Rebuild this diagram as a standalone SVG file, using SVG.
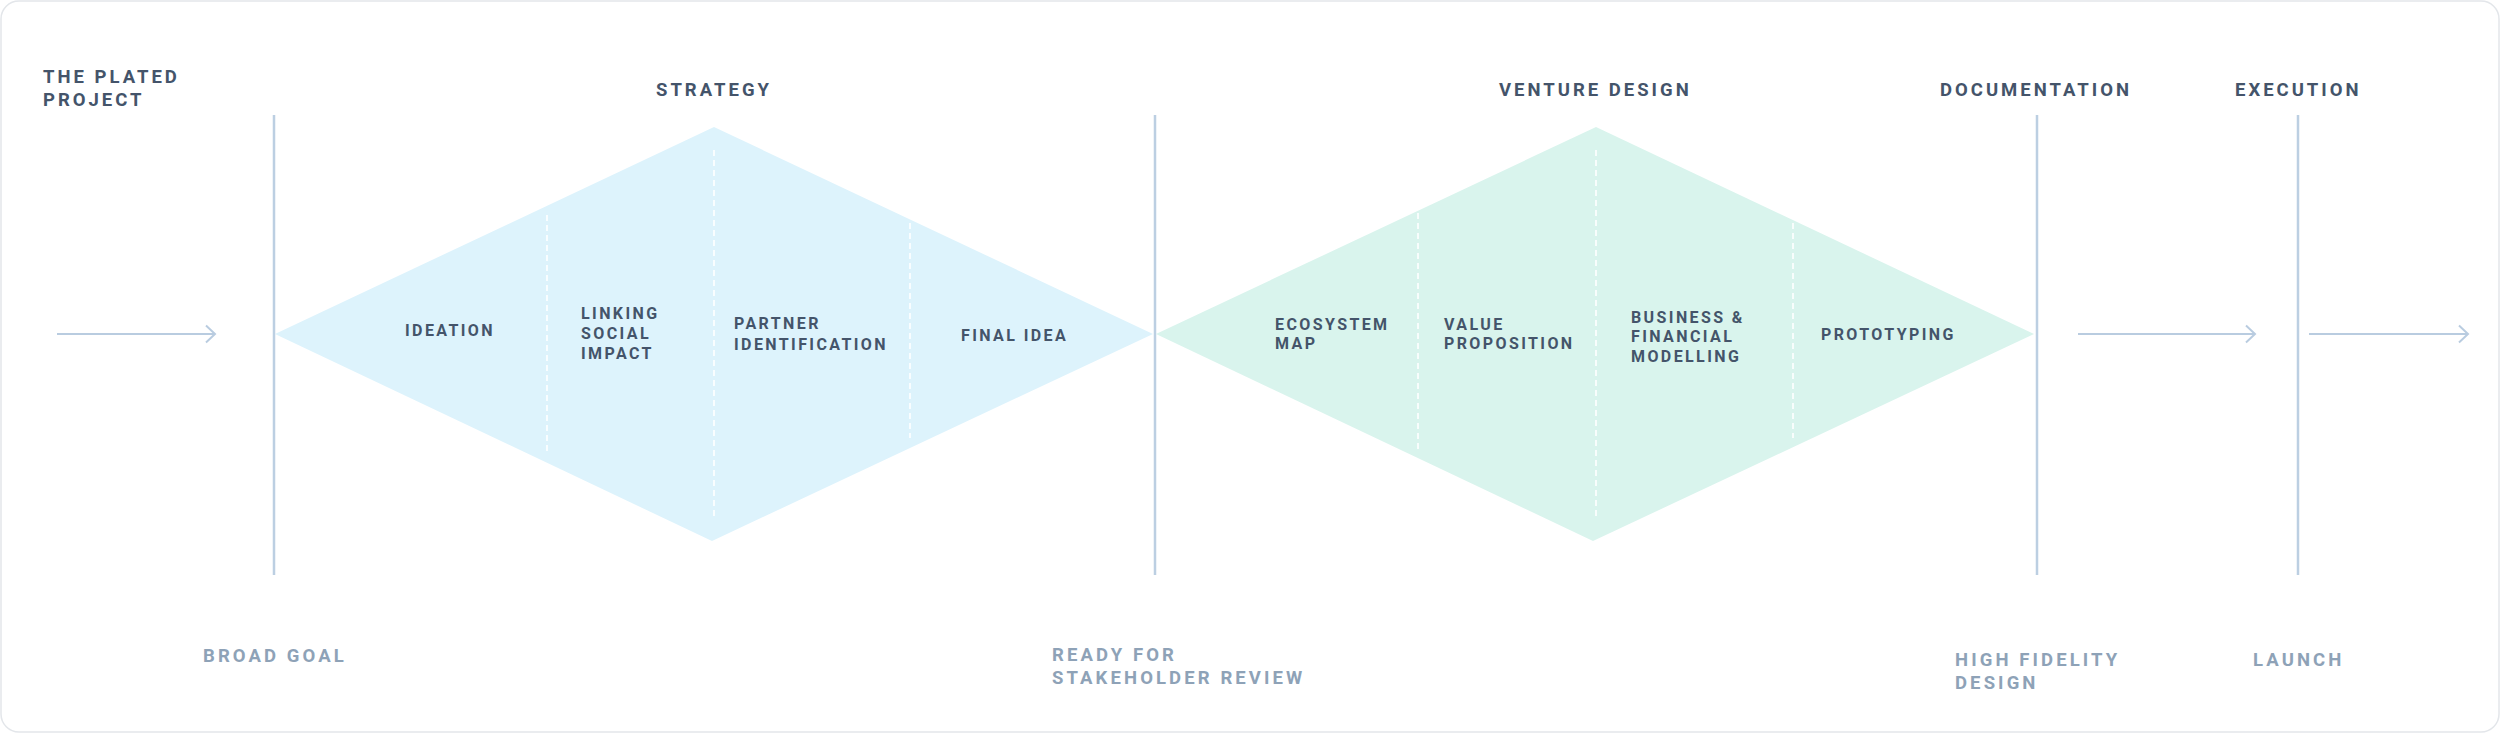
<svg xmlns="http://www.w3.org/2000/svg" width="2500" height="733" viewBox="0 0 2500 733">
  <defs>
    <marker id="chev" markerUnits="userSpaceOnUse" markerWidth="24" markerHeight="24" viewBox="-12 -12 24 24" refX="0" refY="0" orient="auto">
      <path d="M-9,-8.5 L0,0 L-9,8.5" fill="none" stroke="#b9cce0" stroke-width="2"/>
    </marker>
  </defs>
  <style>
    .head { font-family: Roboto, "Liberation Sans", sans-serif; font-weight: 700; font-size: 18.5px; letter-spacing: 3px; fill: #44546a; }
    .lab { font-family: Roboto, "Liberation Sans", sans-serif; font-weight: 700; font-size: 16px; letter-spacing: 2.4px; fill: #44546a; }
    .foot { font-family: Roboto, "Liberation Sans", sans-serif; font-weight: 700; font-size: 18.5px; letter-spacing: 3.1px; fill: #8ea2b7; }
    .vline { stroke: #bccfe2; stroke-width: 2.5; fill: none; }
    .dash { stroke: #ffffff; stroke-width: 1.6; stroke-dasharray: 6 4; fill: none; }
    .arrow { stroke: #b9cce0; stroke-width: 2; fill: none; marker-end: url(#chev); }
  </style>
  <rect x="1" y="1" width="2498" height="731" rx="18" fill="#ffffff" stroke="#e3e6ea" stroke-width="1.5"/>

  <g id="strategy-diamond">
    <polygon points="275,334 714,127 1153,334 712,541" fill="#ddf3fc"/>
    <line class="dash" x1="547" y1="215" x2="547" y2="452"/>
    <line class="dash" x1="714" y1="150" x2="714" y2="517"/>
    <line class="dash" x1="910" y1="223" x2="910" y2="438"/>
  </g>
  <g id="venture-diamond">
    <polygon points="1156,334 1596,127 2034,334 1593,541" fill="#d9f4ed"/>
    <line class="dash" x1="1418" y1="213" x2="1418" y2="452"/>
    <line class="dash" x1="1596" y1="150" x2="1596" y2="517"/>
    <line class="dash" x1="1793" y1="223" x2="1793" y2="438"/>
  </g>

  <g id="milestones">
    <line class="vline" x1="274" y1="115" x2="274" y2="575"/>
    <line class="vline" x1="1155" y1="115" x2="1155" y2="575"/>
    <line class="vline" x1="2037" y1="115" x2="2037" y2="575"/>
    <line class="vline" x1="2298" y1="115" x2="2298" y2="575"/>
  </g>

  <g id="connectors">
    <line class="arrow" x1="57" y1="334" x2="215" y2="334"/>
    <line class="arrow" x1="2078" y1="334" x2="2255" y2="334"/>
    <line class="arrow" x1="2309" y1="334" x2="2468" y2="334"/>
  </g>

  <g id="headings">
    <text class="head" x="43" y="83">THE PLATED</text>
    <text class="head" x="43" y="106">PROJECT</text>
    <text class="head" x="656" y="96">STRATEGY</text>
    <text class="head" x="1499" y="96">VENTURE DESIGN</text>
    <text class="head" x="1940" y="96">DOCUMENTATION</text>
    <text class="head" x="2235" y="96">EXECUTION</text>
  </g>

  <g id="ideation"><text class="lab" x="405" y="336">IDEATION</text></g>
  <g id="linking-social-impact">
    <text class="lab" x="581" y="319">LINKING</text>
    <text class="lab" x="581" y="339">SOCIAL</text>
    <text class="lab" x="581" y="359">IMPACT</text>
  </g>
  <g id="partner-identification">
    <text class="lab" x="734" y="329">PARTNER</text>
    <text class="lab" x="734" y="350">IDENTIFICATION</text>
  </g>
  <g id="final-idea"><text class="lab" x="961" y="341">FINAL IDEA</text></g>
  <g id="ecosystem-map">
    <text class="lab" x="1275" y="330">ECOSYSTEM</text>
    <text class="lab" x="1275" y="349">MAP</text>
  </g>
  <g id="value-proposition">
    <text class="lab" x="1444" y="330">VALUE</text>
    <text class="lab" x="1444" y="349">PROPOSITION</text>
  </g>
  <g id="business-financial-modelling">
    <text class="lab" x="1631" y="323">BUSINESS &amp;</text>
    <text class="lab" x="1631" y="342">FINANCIAL</text>
    <text class="lab" x="1631" y="362">MODELLING</text>
  </g>
  <g id="prototyping"><text class="lab" x="1821" y="340">PROTOTYPING</text></g>

  <g id="outcomes">
    <text class="foot" x="203" y="662">BROAD GOAL</text>
    <text class="foot" x="1052" y="661">READY FOR</text>
    <text class="foot" x="1052" y="684">STAKEHOLDER REVIEW</text>
    <text class="foot" x="1955" y="666">HIGH FIDELITY</text>
    <text class="foot" x="1955" y="689">DESIGN</text>
    <text class="foot" x="2253" y="666">LAUNCH</text>
  </g>
</svg>
